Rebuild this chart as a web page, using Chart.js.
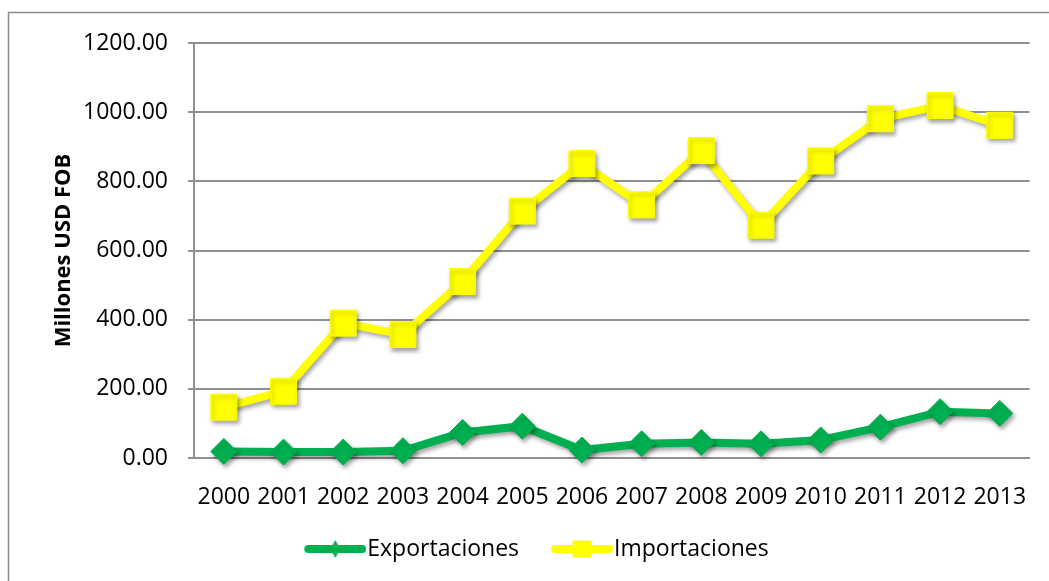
<!DOCTYPE html>
<html>
<head>
<meta charset="utf-8">
<script src="https://cdn.jsdelivr.net/npm/chart.js@4/dist/chart.umd.min.js"></script>
<style>
  html, body { margin: 0; padding: 0; background: #fff; }
  #wrap { width: 1049px; height: 581px; }
</style>
</head>
<body>
<div id="wrap"><canvas id="myChart" width="1049" height="581"></canvas></div>
<script>
const years = ["2000", "2001", "2002", "2003", "2004", "2005", "2006", "2007", "2008", "2009", "2010", "2011", "2012", "2013"];
const exportaciones = [19, 17, 17, 21, 74, 92, 23, 41, 45, 41, 52, 89, 134, 129];
const importaciones = [147, 193, 390, 357, 510, 714, 851, 732, 889, 673, 859, 981, 1019, 962];
const yTicks = [0, 200, 400, 600, 800, 1000, 1200];

const verde = "#00b050";
const amarillo = "#ffff00";
const gris = "#8f8f8f";
const fuente = "'Open Sans', sans-serif";

// muestra de leyenda: linea con marcador pequeño (con margen transparente a la izquierda)
function muestra(color, forma) {
  const c = document.createElement("canvas");
  c.width = 79;
  c.height = 24;
  const ctx = c.getContext("2d");
  const x0 = 17;
  ctx.strokeStyle = color;
  ctx.lineWidth = 8;
  ctx.lineCap = "round";
  ctx.beginPath();
  ctx.moveTo(x0 + 4, 12);
  ctx.lineTo(x0 + 58, 12);
  ctx.stroke();
  ctx.fillStyle = color;
  ctx.beginPath();
  if (forma === "diamante") {
    ctx.moveTo(x0 + 31, 3);
    ctx.lineTo(x0 + 36, 12);
    ctx.lineTo(x0 + 31, 21);
    ctx.lineTo(x0 + 26, 12);
  } else {
    ctx.rect(x0 + 21.5, 3.5, 19, 17);
  }
  ctx.closePath();
  ctx.fill();
  return c;
}

const marco = {
  id: "marco",
  beforeDraw(chart) {
    const ctx = chart.ctx;
    ctx.save();
    ctx.fillStyle = "#fff";
    ctx.fillRect(0, 0, chart.width, chart.height);
    ctx.strokeStyle = "#8c8c8c";
    ctx.lineWidth = 1.5;
    ctx.strokeRect(8.5, 12.5, 1100, 700);
    ctx.restore();
  },
};

const sombra = {
  id: "sombra",
  beforeDatasetsDraw(chart) {
    const ctx = chart.ctx;
    ctx.save();
    ctx.shadowColor = "rgba(0,0,0,0.35)";
    ctx.shadowBlur = 4;
    ctx.shadowOffsetX = 2;
    ctx.shadowOffsetY = 3;
  },
  afterDatasetsDraw(chart) {
    chart.ctx.restore();
  },
};

const config = {
  type: "line",
  data: {
    labels: years,
    datasets: [
      {
        label: "Exportaciones",
        data: exportaciones,
        borderColor: verde,
        backgroundColor: verde,
        borderWidth: 8,
        pointStyle: "rectRot",
        pointRadius: 13,
        pointBorderWidth: 1,
        pointBorderColor: verde,
        pointBackgroundColor: verde,
        tension: 0,
      },
      {
        label: "Importaciones",
        data: importaciones,
        borderColor: amarillo,
        backgroundColor: amarillo,
        borderWidth: 8,
        pointStyle: "rect",
        pointRadius: 18.4,
        pointBorderWidth: 1,
        pointBorderColor: amarillo,
        pointBackgroundColor: amarillo,
        tension: 0,
      },
    ],
  },
  options: {
    responsive: false,
    animation: false,
    clip: false,
    layout: { padding: { top: 43, right: 15, bottom: 10.5, left: 32.5 } },
    plugins: {
      tooltip: { enabled: false },
      legend: {
        position: "bottom",
        labels: {
          usePointStyle: true,
          pointStyleWidth: 58,
          padding: 25.5,
          color: "#000",
          font: { family: fuente, size: 23 },
          generateLabels: function (chart) {
            return chart.data.datasets.map(function (ds, i) {
              return {
                text: ds.label,
                fillStyle: ds.borderColor,
                strokeStyle: ds.borderColor,
                lineWidth: 0,
                fontColor: "#000",
                pointStyle: muestra(ds.borderColor, i === 0 ? "diamante" : "cuadro"),
                datasetIndex: i,
                hidden: false,
              };
            });
          },
        },
      },
    },
    scales: {
      x: {
        offset: true,
        grid: { display: false, drawTicks: false },
        border: { display: true, color: gris, width: 2 },
        ticks: { color: "#000", padding: 26, maxRotation: 0, autoSkip: false, font: { family: fuente, size: 23 } },
        afterFit: function (scale) {
          scale.height = 54;
          scale.paddingLeft = 0;
          scale.paddingRight = 0;
        },
      },
      y: {
        min: 0,
        max: 1200,
        grid: { color: gris, lineWidth: 2, drawTicks: true, tickLength: 6 },
        border: { display: true, color: gris, width: 2 },
        afterBuildTicks: function (scale) {
          scale.ticks = yTicks.map(function (v) { return { value: v }; });
        },
        ticks: {
          color: "#000",
          padding: 20,
          font: { family: fuente, size: 23 },
          callback: function (v) { return Number(v).toFixed(2); },
        },
        title: {
          display: true,
          text: "Millones USD FOB",
          color: "#000",
          padding: { top: 18, bottom: 0 },
          font: { family: fuente, size: 22, weight: "bold" },
        },
        afterFit: function (scale) {
          scale.width = 161.5;
        },
      },
    },
  },
  plugins: [marco, sombra],
};

const myChart = document.getElementById("myChart");
new Chart(myChart, config);
</script>
</body>
</html>
